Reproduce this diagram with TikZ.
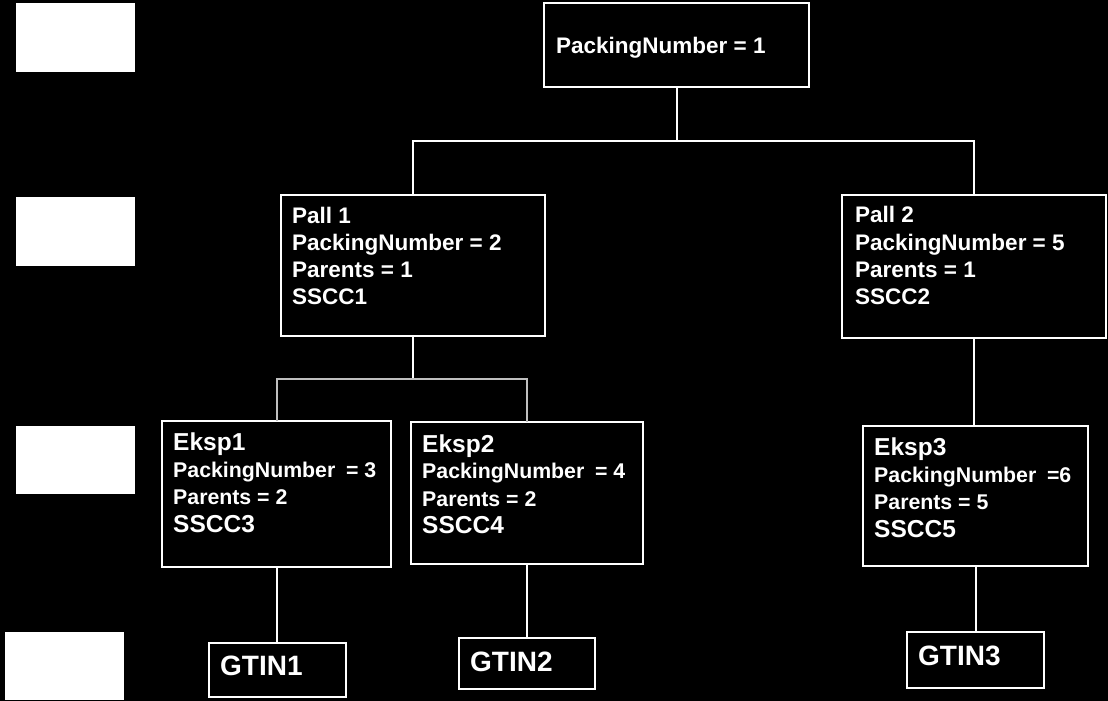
\documentclass[tikz,border=0pt]{standalone}
\usepackage{fontspec}
\setmainfont{Liberation Sans}
\usetikzlibrary{calc}
\begin{document}
\begin{tikzpicture}[x=1pt,y=-1pt,
  box/.style={draw=white,line width=2pt,fill=black,rectangle,inner sep=0pt,outer sep=0pt,anchor=north west},
  legend/.style={fill=white,draw=none,rectangle,inner sep=0pt,outer sep=0pt,anchor=north west},
  txt/.style={text=white,inner sep=0pt,anchor=base west},
  pall/.style={font=\bfseries\fontsize{22.5}{27}\selectfont},
  big/.style={font=\bfseries\fontsize{24.5}{28}\selectfont},
  mid/.style={font=\bfseries\fontsize{21.3}{26}\selectfont},
  gt/.style={font=\bfseries\fontsize{28}{32}\selectfont},
  conn/.style={draw=white,line width=2pt},
  connb/.style={draw=white!75!black,line width=2pt}]
\useasboundingbox (0,0) rectangle (1108,701);
\fill[black] (0,0) rectangle (1108,701);
% legend rectangles
\node[legend,minimum width=119pt,minimum height=69pt] (l1) at (16,3) {};
\node[legend,minimum width=119pt,minimum height=69pt] (l2) at (16,197) {};
\node[legend,minimum width=119pt,minimum height=68pt] (l3) at (16,426) {};
\node[legend,minimum width=119pt,minimum height=68pt] (l4) at (5,632) {};
% boxes
\node[box,minimum width=265pt,minimum height=84pt] (top) at (544,3) {};
\node[box,minimum width=264pt,minimum height=141pt] (p1) at (281,195) {};
\node[box,minimum width=264pt,minimum height=143pt] (p2) at (842,195) {};
\node[box,minimum width=229pt,minimum height=146pt] (e1) at (162,421) {};
\node[box,minimum width=232pt,minimum height=142pt] (e2) at (411,422) {};
\node[box,minimum width=225pt,minimum height=140pt] (e3) at (863,426) {};
\node[box,minimum width=137pt,minimum height=54pt] (g1) at (209,643) {};
\node[box,minimum width=136pt,minimum height=51pt] (g2) at (459,638) {};
\node[box,minimum width=137pt,minimum height=56pt] (g3) at (907,632) {};
% connectors
\coordinate (j1) at ($(top.south)+(0,54)$);
\coordinate (j2) at ($(p1.south)+(0,43)$);
\draw[conn] (top.south) -- (j1);
\draw[conn] (p1.north) |- (j1) -| (p2.north);
\draw[conn] (p1.south) -- (j2);
\draw[connb] (j2) -| (e1.north);
\draw[connb] (j2) -| (e2.north);
\draw[conn] (p2.south) -- (p2.south |- e3.north);
\draw[conn] (e1.south) -- (e1.south |- g1.north);
\draw[conn] (e2.south) -- (e2.south |- g2.north);
\draw[conn] (e3.south) -- (e3.south |- g3.north);
% texts
\node[txt,pall] (t0) at (556,53) {PackingNumber = 1};
\node[txt,pall] (p1a) at (292,223) {Pall 1};
\node[txt,pall] (p1b) at (292,250) {PackingNumber = 2};
\node[txt,pall] (p1c) at (292,277) {Parents = 1};
\node[txt,pall] (p1d) at (292,304) {SSCC1};
\node[txt,pall] (p2a) at (855,222) {Pall 2};
\node[txt,pall] (p2b) at (855,250) {PackingNumber = 5};
\node[txt,pall] (p2c) at (855,277) {Parents = 1};
\node[txt,pall] (p2d) at (855,304) {SSCC2};
\node[txt,big] (e1a) at (173,450) {Eksp1};
\node[txt,mid] (e1b) at (173,477) {PackingNumber\hspace{0.5em}= 3};
\node[txt,mid] (e1c) at (173,504) {Parents = 2};
\node[txt,big] (e1d) at (173,532) {SSCC3};
\node[txt,big] (e2a) at (422,452) {Eksp2};
\node[txt,mid] (e2b) at (422,478) {PackingNumber\hspace{0.5em}= 4};
\node[txt,mid] (e2c) at (422,506) {Parents = 2};
\node[txt,big] (e2d) at (422,533) {SSCC4};
\node[txt,big] (e3a) at (874,455) {Eksp3};
\node[txt,mid] (e3b) at (874,482) {PackingNumber\hspace{0.5em}=6};
\node[txt,mid] (e3c) at (874,509) {Parents = 5};
\node[txt,big] (e3d) at (874,537) {SSCC5};
\node[txt,gt] (g1t) at (220,675) {GTIN1};
\node[txt,gt] (g2t) at (470,671) {GTIN2};
\node[txt,gt] (g3t) at (918,665) {GTIN3};
\end{tikzpicture}
\end{document}
